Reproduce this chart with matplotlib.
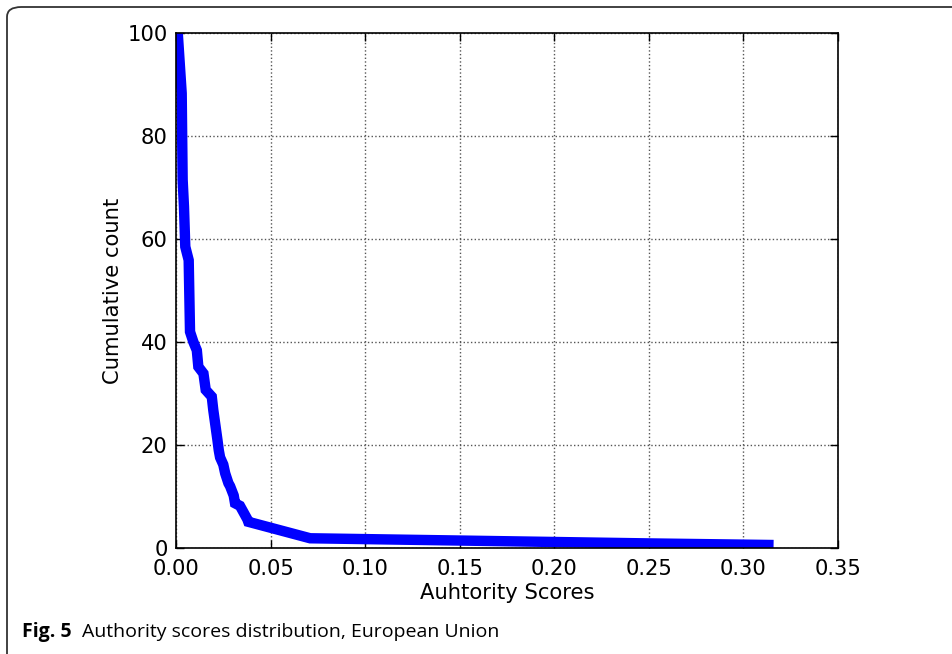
import matplotlib
matplotlib.use('Agg')
import matplotlib.pyplot as plt
from matplotlib.patches import FancyBboxPatch

# cumulative count vs authority score
scores = [0.001, 0.003, 0.0035, 0.0042, 0.0049, 0.0067, 0.0074, 0.0092,
          0.011, 0.0118, 0.0145, 0.0157, 0.0189, 0.0197, 0.0219,
          0.0226, 0.0233, 0.025, 0.026, 0.0277, 0.0286, 0.0305, 0.0312,
          0.0338, 0.0356, 0.0377, 0.0382, 0.0709, 0.25, 0.3132]
counts = [99.5, 88.3, 71.5, 66.3, 58.5, 55.9, 42.0, 40.0,
          38.4, 35.2, 33.9, 30.7, 29.4, 26.8, 21.0,
          19.0, 17.6, 16.2, 14.5, 12.6, 12.0, 10.2, 8.7,
          8.2, 7.0, 5.6, 5.1, 1.9, 0.9, 0.6]

xticks = [0.00, 0.05, 0.10, 0.15, 0.20, 0.25, 0.30, 0.35]
yticks = [0, 20, 40, 60, 80, 100]

fig = plt.figure(figsize=(9.53, 6.54), dpi=100)
ax = fig.add_axes([0.1847, 0.162, 0.6946, 0.7875])

ax.plot(scores, counts, color='blue', linewidth=7.5, solid_joinstyle='miter')
ax.set_xlim(0, 0.35)
ax.set_ylim(0, 100)
ax.set_xticks(xticks)
ax.set_xticklabels(['%.2f' % t for t in xticks])
ax.set_yticks(yticks)
ax.grid(True, linestyle=':', color='#555555', linewidth=1.0)
ax.tick_params(direction='in', top=True, right=True, labelsize=15.2,
               length=6, width=1)
ax.tick_params(axis='x', pad=8)
ax.tick_params(axis='y', pad=6)
for s in ax.spines.values():
    s.set_linewidth(1.2)
ax.set_xlabel('Auhtority Scores', fontsize=15.2, labelpad=3)
ax.set_ylabel('Cumulative count', fontsize=15.2, labelpad=3)

# frame of the journal figure box (only left and top edges visible)
frame = FancyBboxPatch((7 / 953, -0.2), 1.2, 1.2 - 7 / 654,
                       boxstyle='round,pad=0,rounding_size=0.015',
                       transform=fig.transFigure, fill=False,
                       edgecolor='#333333', linewidth=1.3, clip_on=False)
fig.patches.append(frame)

fig.text(22 / 953, 1 - 637 / 654, 'Fig. 5', fontsize=14, fontweight='bold',
         family='Open Sans', va='baseline', ha='left')
fig.text(82 / 953, 1 - 637 / 654, 'Authority scores distribution, European Union',
         fontsize=14, family='Open Sans', va='baseline', ha='left')

fig.savefig('out.png', dpi=100)
